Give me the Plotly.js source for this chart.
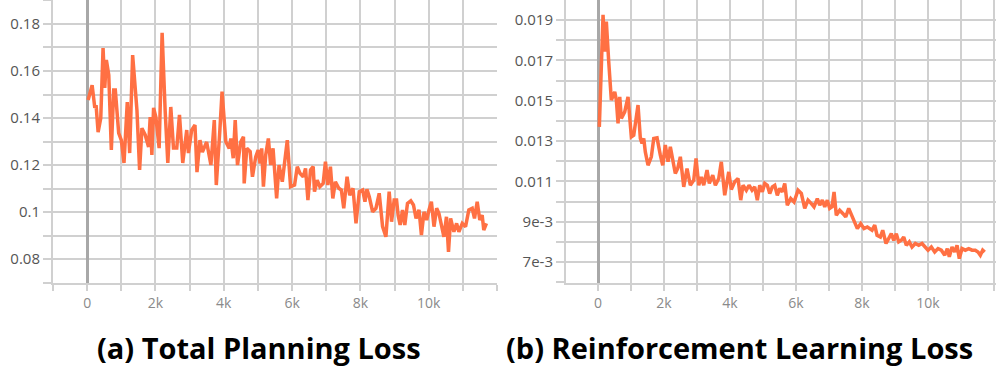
<!DOCTYPE html>
<html>
<head>
<meta charset="utf-8">
<script src="https://cdn.plot.ly/plotly-3.0.1.min.js"></script>
<style>
  html, body { margin: 0; padding: 0; background: #ffffff; }
  #plot { width: 996px; height: 371px; }
</style>
</head>
<body>
<div id="plot"></div>
<script>
// (a) Total Planning Loss
let planSteps = [
    29, 146, 224, 262, 321, 399, 466, 516, 563, 633, 708, 778, 825, 924, 1000, 1079, 1175, 1245, 1332, 1458,
    1536, 1604, 1700, 1799, 1846, 1895, 1945, 2012, 2108, 2195, 2283, 2362, 2449, 2528, 2624, 2703, 2799, 2916, 2965, 3061,
    3157, 3216, 3303, 3373, 3499, 3624, 3723, 3781, 3886, 3950, 4061, 4160, 4207, 4277, 4335, 4402, 4499, 4577, 4598, 4674,
    4773, 4840, 4936, 5006, 5064, 5111, 5161, 5228, 5306, 5373, 5443, 5548, 5618, 5714, 5860, 5956, 6073, 6152, 6230, 6327,
    6394, 6464, 6540, 6618, 6656, 6735, 6814, 6910, 6977, 7047, 7123, 7193, 7268, 7368, 7443, 7513, 7610, 7688, 7784, 7872,
    7968, 8067, 8134, 8192, 8260, 8359, 8455, 8551, 8650, 8747, 8843, 8913, 8989, 9059, 9105, 9164, 9234, 9300, 9379, 9475,
    9554, 9630, 9717, 9787, 9863, 9942, 10009, 10079, 10155, 10233, 10300, 10370, 10446, 10520, 10580, 10642, 10738, 10817, 10884, 10983,
    11079, 11175, 11274, 11341, 11420, 11496, 11566, 11613, 11691
];
let planLoss = [
    0.1477, 0.154, 0.1443, 0.1455, 0.134, 0.140, 0.1698, 0.1528, 0.1647, 0.1583, 0.1264, 0.1519, 0.1519, 0.1336, 0.1306, 0.1209, 0.1468, 0.1251, 0.1668, 0.1434,
    0.1179, 0.1357, 0.1328, 0.1277, 0.1404, 0.1243, 0.1443, 0.1404, 0.1272, 0.1762, 0.1434, 0.1209, 0.1447, 0.1272, 0.1272, 0.1413, 0.1209, 0.1349, 0.1251, 0.1349,
    0.137, 0.117, 0.1306, 0.1255, 0.1298, 0.120, 0.1391, 0.1115, 0.1349, 0.1512, 0.1299, 0.1271, 0.1313, 0.1229, 0.1391, 0.120, 0.1299, 0.132, 0.1122, 0.1271,
    0.1257, 0.115, 0.1235, 0.1264, 0.1207, 0.1271, 0.1108, 0.1243, 0.1313, 0.120, 0.1271, 0.1058, 0.120, 0.1129, 0.1306, 0.1108, 0.1115, 0.1193, 0.1165, 0.115,
    0.1186, 0.1051, 0.1179, 0.1193, 0.1087, 0.1136, 0.1108, 0.1122, 0.1214, 0.1115, 0.1193, 0.1058, 0.1129, 0.1101, 0.1094, 0.1016, 0.115, 0.1072, 0.1101, 0.0952,
    0.1087, 0.1094, 0.1044, 0.1097, 0.1065, 0.1001, 0.1016, 0.108, 0.0938, 0.0895, 0.1087, 0.0959, 0.1051, 0.1051, 0.0987, 0.0945, 0.1009, 0.0945, 0.1037, 0.1048,
    0.103, 0.0973, 0.1009, 0.0902, 0.1001, 0.0966, 0.1009, 0.1044, 0.0938, 0.1016, 0.0994, 0.0938, 0.0895, 0.098, 0.0831, 0.0973, 0.0916, 0.0952, 0.0916, 0.0952,
    0.0938, 0.1009, 0.1016, 0.0973, 0.1044, 0.0966, 0.0987, 0.0923, 0.0952
];

// (b) Reinforcement Learning Loss
let rlSteps = [
    39, 152, 203, 252, 324, 403, 506, 555, 606, 658, 706, 809, 909, 1009, 1082, 1212, 1282, 1333, 1385, 1433,
    1515, 1615, 1688, 1788, 1888, 1961, 2039, 2121, 2191, 2273, 2342, 2415, 2494, 2597, 2697, 2797, 2900, 2970, 3052, 3130,
    3203, 3303, 3373, 3476, 3555, 3658, 3736, 3839, 3961, 4039, 4142, 4242, 4324, 4394, 4494, 4576, 4667, 4748, 4827, 4900,
    4979, 5052, 5130, 5203, 5282, 5355, 5433, 5506, 5585, 5658, 5736, 5839, 5939, 6061, 6161, 6264, 6364, 6464, 6545, 6645,
    6718, 6797, 6870, 6948, 7021, 7091, 7152, 7221, 7324, 7424, 7506, 7597, 7697, 7779, 7858, 7961, 8061, 8161, 8303, 8385,
    8455, 8555, 8627, 8727, 8809, 8888, 8961, 9039, 9112, 9191, 9264, 9342, 9433, 9515, 9615, 9718, 9818, 9900, 10000, 10100,
    10203, 10303, 10403, 10506, 10585, 10645, 10727, 10809, 10879, 10948, 11030, 11130, 11233, 11333, 11433, 11515, 11585, 11657, 11718
];
let rlLoss = [
    0.01370, 0.01925, 0.01743, 0.01892, 0.01693, 0.01503, 0.01544, 0.01503, 0.01387, 0.01519, 0.01412, 0.01445, 0.01519, 0.01321, 0.01329, 0.01478, 0.01313, 0.01288, 0.01313, 0.01246,
    0.01180, 0.01222, 0.01313, 0.01316, 0.01230, 0.01180, 0.01280, 0.01197, 0.01271, 0.01197, 0.01139, 0.01164, 0.01222, 0.01073, 0.01164, 0.01081, 0.01106, 0.01214, 0.01081, 0.01122,
    0.01081, 0.01156, 0.01090, 0.01131, 0.01081, 0.01114, 0.01197, 0.01031, 0.01147, 0.01060, 0.01098, 0.01114, 0.01007, 0.01081, 0.01056, 0.01081, 0.01056, 0.01073, 0.01007, 0.01081,
    0.01048, 0.01090, 0.01081, 0.01040, 0.01073, 0.01081, 0.01031, 0.01065, 0.01048, 0.01090, 0.00982, 0.01015, 0.00998, 0.01056, 0.01040, 0.00966, 0.01007, 0.00990, 0.00974, 0.01015,
    0.00982, 0.01007, 0.00974, 0.01007, 0.00966, 0.00974, 0.01048, 0.00932, 0.00957, 0.00940, 0.00924, 0.00966, 0.00924, 0.00899, 0.00866, 0.00891, 0.00866, 0.00874, 0.00858, 0.00883,
    0.00833, 0.00824, 0.00858, 0.00792, 0.00817, 0.00841, 0.00808, 0.00841, 0.00800, 0.00808, 0.00824, 0.00783, 0.00800, 0.00775, 0.00792, 0.00783, 0.00792, 0.00775, 0.00759, 0.00775,
    0.00750, 0.00767, 0.00759, 0.00734, 0.00767, 0.00726, 0.00775, 0.00750, 0.00783, 0.00717, 0.00767, 0.00759, 0.00767, 0.00759, 0.00759, 0.00750, 0.00734, 0.00759, 0.00750
];

let xTickVals = [0, 2000, 4000, 6000, 8000, 10000];
let xTickText = ['0', '2k', '4k', '6k', '8k', '10k'];
let planTickVals = [0.08, 0.10, 0.12, 0.14, 0.16, 0.18];
let planTickText = ['0.08', '0.1', '0.12', '0.14', '0.16', '0.18'];
let rlTickVals = [0.007, 0.009, 0.011, 0.013, 0.015, 0.017, 0.019];
let rlTickText = ['7e-3', '9e-3', '0.011', '0.013', '0.015', '0.017', '0.019'];
let panelTitles = ['(a) Total Planning Loss', '(b) Reinforcement Learning Loss'];

const lineColor = '#ff7043';
const gridColor = '#d0d0d0';
const fontFam = '"Open Sans", "Noto Sans", sans-serif';

let data = [{
    x: planSteps,
    y: planLoss,
    mode: 'lines',
    line: { color: lineColor, width: 3.5 },
    xaxis: 'x', yaxis: 'y',
}, {
    x: rlSteps,
    y: rlLoss,
    mode: 'lines',
    line: { color: lineColor, width: 3.5 },
    xaxis: 'x2', yaxis: 'y2',
}];

function xAxis(domain, range) {
    return {
        domain: domain,
        range: range,
        tickvals: xTickVals,
        ticktext: xTickText,
        tickfont: { family: fontFam, size: 14, color: '#8a8a8a' },
        ticks: 'outside', ticklen: 6, tickcolor: gridColor, tickwidth: 2,
        showgrid: true, gridcolor: gridColor, gridwidth: 2,
        minor: { dtick: 1000, tick0: 0, showgrid: true, gridcolor: gridColor, gridwidth: 2, ticks: 'outside', ticklen: 6, tickcolor: gridColor },
        zeroline: true, zerolinecolor: '#a8a8a8', zerolinewidth: 3,
        showline: true, linecolor: gridColor, linewidth: 2,
        fixedrange: true,
    };
}
function yAxis(domain, range, vals, text, dt, anchor) {
    return {
        domain: domain,
        range: range,
        anchor: anchor,
        tickvals: vals,
        ticktext: text,
        tickfont: { family: fontFam, size: 15, color: '#555555' },
        ticks: 'outside', ticklen: 8, tickcolor: gridColor, tickwidth: 2,
        showgrid: true, gridcolor: gridColor, gridwidth: 2,
        minor: { dtick: dt, tick0: 0, showgrid: true, gridcolor: gridColor, gridwidth: 2, ticks: 'outside', ticklen: 8, tickcolor: gridColor },
        zeroline: false,
        showline: true, linecolor: gridColor, linewidth: 2,
        fixedrange: true,
    };
}

let layout = {
    width: 996,
    height: 371,
    margin: { l: 0, r: 0, t: 0, b: 0, pad: 0 },
    paper_bgcolor: '#ffffff',
    plot_bgcolor: '#ffffff',
    showlegend: false,
    xaxis: Object.assign(xAxis([0.0532, 0.499], [-1000, 12000]), { anchor: 'y' }),
    yaxis: yAxis([0.237, 1], [0.0698, 0.1902], planTickVals, planTickText, 0.01, 'x'),
    xaxis2: Object.assign(xAxis([0.5683, 1.0], [-970, 12060]), { anchor: 'y2' }),
    yaxis2: yAxis([0.237, 1], [0.00596, 0.01999], rlTickVals, rlTickText, 0.001, 'x2'),
    annotations: [{
        text: '<b>' + panelTitles[0] + '</b>',
        xref: 'paper', yref: 'paper', x: 0.2605, y: 0.062,
        xanchor: 'center', yanchor: 'middle', showarrow: false,
        font: { family: fontFam, size: 29, color: '#000000' },
    }, {
        text: '<b>' + panelTitles[1] + '</b>',
        xref: 'paper', yref: 'paper', x: 0.742, y: 0.062,
        xanchor: 'center', yanchor: 'middle', showarrow: false,
        font: { family: fontFam, size: 29, color: '#000000' },
    }],
};

let config = { staticPlot: true, displayModeBar: false };

Plotly.newPlot('plot', data, layout, config);
</script>
</body>
</html>
